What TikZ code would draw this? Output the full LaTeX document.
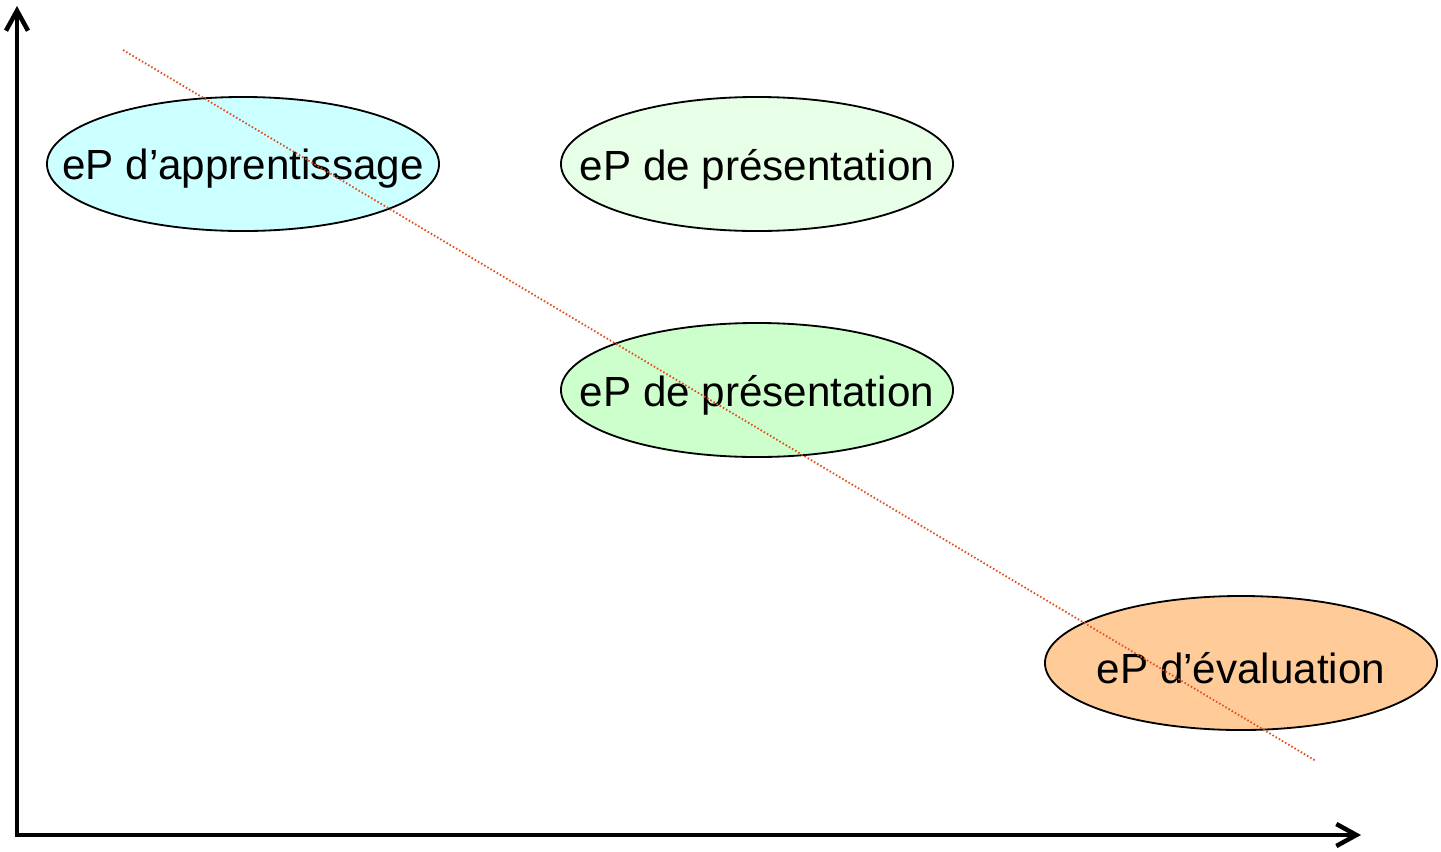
\documentclass[tikz,border=0pt]{standalone}
\usepackage{fontspec}
\setmainfont{Liberation Sans}
\usetikzlibrary{arrows.meta,shapes.geometric}
\definecolor{apprfill}{HTML}{CCFFFF}
\definecolor{presfill}{HTML}{E6FFE6}
\definecolor{presfillb}{HTML}{CCFFCC}
\definecolor{evalfill}{HTML}{FFCC99}
\definecolor{trendcol}{HTML}{E0501E}
\begin{document}
\begin{tikzpicture}[x=0.025cm, y=-0.025cm,
  ep/.style={draw, ellipse, line width=1.3pt, inner sep=0pt,
    minimum width=9.8cm, minimum height=3.35cm},
  eptext/.style={font=\fontsize{30}{36}\selectfont, yshift=-3.5pt},
  barb/.tip={Straight Barb[length=0.5cm, width=0.55cm, line width=3.2pt]},
  axis/.style={line width=2.3pt, barb-barb}]
\useasboundingbox (0,0) rectangle (1441,851);
\coordinate (orig) at (17,835);
\coordinate (ytip) at (17,6);
\coordinate (xtip) at (1361,835);
\draw[axis] (ytip) -- (orig) -- (xtip);
\node[ep, fill=apprfill, label={[eptext]center:eP d’apprentissage}] (appr) at (243,164) {};
\node[ep, fill=presfill, label={[eptext]center:eP de présentation}] (presa) at (757,164) {};
\node[ep, fill=presfillb, label={[eptext]center:eP de présentation}] (presb) at (757,390) {};
\node[ep, fill=evalfill, label={[eptext]center:eP d’évaluation}] (eval) at (1241,663) {};
\coordinate (trendstart) at (123,50);
\coordinate (trendend) at (1316,761);
\draw[trendcol, line width=1.3pt, dash pattern=on 1.1pt off 1.5pt] (trendstart) -- (trendend);
\end{tikzpicture}
\end{document}
